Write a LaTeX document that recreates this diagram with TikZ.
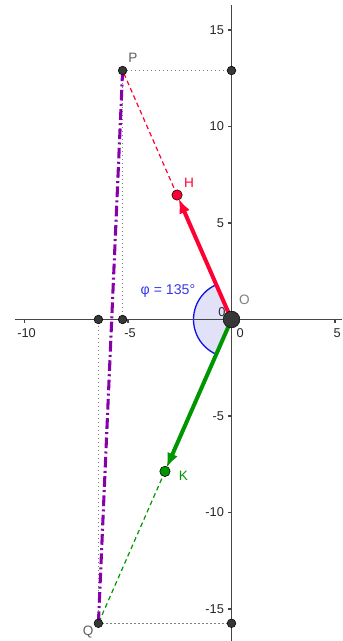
\documentclass[tikz,border=0pt]{standalone}
\usepackage{fontspec}
\setmainfont{Liberation Sans}
\usetikzlibrary{arrows.meta,calc}
\definecolor{axisgray}{RGB}{70,70,70}
\definecolor{lblgray}{RGB}{95,95,95}
\definecolor{vred}{RGB}{255,0,51}
\definecolor{vgreen}{RGB}{0,150,0}
\definecolor{vpurple}{RGB}{136,0,170}
\definecolor{vblue}{RGB}{20,20,230}
\definecolor{angfill}{RGB}{225,225,248}
\definecolor{dotgray}{RGB}{55,55,55}
\begin{document}
\begin{tikzpicture}[x=15.525pt, y=14.475pt,
  axis/.style={axisgray, line width=1.1pt},
  tickmark/.style={axisgray, line width=0.8pt},
  ticklbl/.style={font=\fontsize{9.6}{10}\selectfont, text=black!85, inner sep=1pt},
  ptlbl/.style={font=\fontsize{10.2}{11}\selectfont, inner sep=0pt},
  guide/.style={gray, line width=0.8pt, dash pattern=on 1pt off 2pt},
  halfdash/.style={line width=0.9pt, dash pattern=on 3.5pt off 2.5pt},
  vec/.style={line width=3pt, -{Latex[length=11pt,width=8.5pt]}, shorten >=3pt},
  pt/.style={circle, fill=dotgray, draw=black, line width=0.4pt, inner sep=0pt, minimum size=6.5pt},
  bigpt/.style={circle, fill=dotgray, draw=black, line width=0.4pt, inner sep=0pt, minimum size=12.5pt}
]
\useasboundingbox (-11.1836,-16.658) rectangle (5.3382,16.5544);
% points
\coordinate (O) at (0,0);
\coordinate (P) at (-5.26,12.9);
\coordinate (Q) at (-6.43,-15.74);
\coordinate (H) at ($(O)!0.5!(P)$);
\coordinate (K) at ($(O)!0.5!(Q)$);
\coordinate (Py) at (0,12.9);
\coordinate (Px) at (-5.26,0);
\coordinate (Qy) at (0,-15.74);
\coordinate (Qx) at (-6.43,0);
\coordinate (xl) at (-10.46,0);
\coordinate (xr) at (5.3382,0);
\coordinate (yt) at (0,16.30);
\coordinate (yb) at (0,-16.658);
% angle sector
\fill[angfill] (O) -- ++(113.6:28.5pt) arc[start angle=113.6, end angle=246.4, radius=28.5pt] -- cycle;
\draw[vblue, line width=1pt] (O) ++(113.6:28.5pt) arc[start angle=113.6, end angle=246.4, radius=28.5pt];
% axes
\draw[axis] (xl) -- (xr);
\draw[axis] (yb) -- (yt);
\foreach \x/\t in {-10/-10,-5/-5,5/5}{
  \draw[tickmark] (\x,0) -- ++(0,-3pt);
  \node[ticklbl] (xt\x) at (\x+0.1,-0.72) {\t};
}
\foreach \y/\t in {15/15,10/10,5/5,-5/-5,-10/-10,-15/-15}{
  \draw[tickmark] (0,\y) -- ++(-3pt,0);
  \node[ticklbl, anchor=east] (yt\y) at ([xshift=-4.5pt]0,\y) {\t};
}
\node[ticklbl] (zy) at (-0.46,0.36) {0};
\node[ticklbl] (zx) at (0.42,-0.70) {0};
% guides
\draw[guide] (P) -- (Py);
\draw[guide] (P) -- (Px);
\draw[guide] (Q) -- (Qy);
\draw[guide] (Q) -- (Qx);
% purple dash-dot
\draw[vpurple, line width=2.3pt, dash pattern=on 8pt off 2.5pt on 1.5pt off 2.5pt] (P) -- (Q);
% dashed halves
\draw[vred, halfdash] (H) -- (P);
\draw[vgreen, halfdash] (K) -- (Q);
% vectors
\draw[vred, vec] (O) -- (H);
\draw[vgreen, vec] (O) -- (K);
% dots
\node[pt] (nPy) at (Py) {};
\node[pt] (nPx) at (Px) {};
\node[pt] (nQy) at (Qy) {};
\node[pt] (nQx) at (Qx) {};
\node[pt] (nP) at (P) {};
\node[pt] (nQ) at (Q) {};
\node[pt, fill=vred, minimum size=7.8pt] (nH) at (H) {};
\node[pt, fill=vgreen, minimum size=7.8pt] (nK) at (K) {};
\node[bigpt] (nO) at (O) {};
% labels
\node[ptlbl, text=lblgray] (lP) at (-4.76,13.55) {P};
\node[ptlbl, text=vred] (lH) at (-2.05,7.07) {H};
\node[ptlbl, text=lblgray!80] (lO) at (0.62,1.0) {O};
\node[ptlbl, text=vgreen] (lK) at (-2.32,-8.11) {K};
\node[ptlbl, text=lblgray] (lQ) at (-6.93,-16.19) {Q};
\node[ptlbl, text=vblue!85, font=\fontsize{10.6}{12}\selectfont] (lphi) at (-3.07,1.48) {φ = 135°};
\end{tikzpicture}
\end{document}
